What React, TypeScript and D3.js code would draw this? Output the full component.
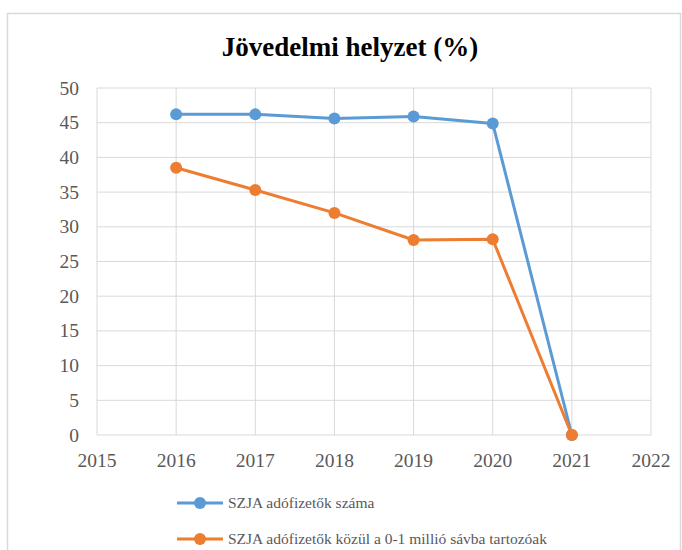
import React from "react";
import * as d3 from "d3";

const years = [2016, 2017, 2018, 2019, 2020, 2021];
const taxpayers = [46.2, 46.2, 45.6, 45.9, 44.9, 0];
const lowBand = [38.5, 35.3, 32.0, 28.1, 28.2, 0];
const xTicks = [2015, 2016, 2017, 2018, 2019, 2020, 2021, 2022];
const yTicks = [0, 5, 10, 15, 20, 25, 30, 35, 40, 45, 50];
const seriesNames = ["SZJA adófizetők száma", "SZJA adófizetők közül a 0-1 millió sávba tartozóak"];
const colors = ["#5B9BD5", "#ED7D31"];
const title = "Jövedelmi helyzet (%)";

const W = 682, H = 550;
const font = "'Liberation Serif', 'Times New Roman', serif";

export default function App() {
  const x = d3.scaleLinear().domain([2015, 2022]).range([97, 651]);
  const y = d3.scaleLinear().domain([0, 50]).range([435, 88]);
  const line = d3.line<number>().x((_, i) => x(years[i])).y((d) => y(d));
  const series = [taxpayers, lowBand];

  return (
    <svg width={W} height={H} style={{ position: "absolute", left: 0, top: 0, background: "#fff" }}>
      <rect x={7.5} y={13.5} width={673} height={560} fill="#fff" stroke="#D9D9D9" strokeWidth={1.5} />
      <text x={350} y={56} textAnchor="middle" fontFamily={font} fontWeight="bold" fontSize={27} fill="#000">
        {title}
      </text>
      {yTicks.map((t) => (
        <g key={"y" + t}>
          <line x1={x(2015)} x2={x(2022)} y1={y(t)} y2={y(t)} stroke="#D9D9D9" strokeWidth={1} />
          <text x={79} y={y(t) + 6.5} textAnchor="end" fontFamily={font} fontSize={19.5} fill="#595959">{t}</text>
        </g>
      ))}
      {xTicks.map((t) => (
        <g key={"x" + t}>
          <line x1={x(t)} x2={x(t)} y1={y(0)} y2={y(50)} stroke="#D9D9D9" strokeWidth={1} />
          <text x={x(t)} y={467} textAnchor="middle" fontFamily={font} fontSize={19.5} fill="#595959">{t}</text>
        </g>
      ))}
      {series.map((s, si) => (
        <g key={"s" + si}>
          <path d={line(s) || ""} fill="none" stroke={colors[si]} strokeWidth={3} strokeLinejoin="round" />
          {s.map((v, i) => (
            <circle key={i} cx={x(years[i])} cy={y(v)} r={6} fill={colors[si]} />
          ))}
        </g>
      ))}
      {seriesNames.map((n, i) => {
        const ly = 503 + i * 36;
        return (
          <g key={"l" + i}>
            <line x1={177} x2={223} y1={ly} y2={ly} stroke={colors[i]} strokeWidth={3} />
            <circle cx={200} cy={ly} r={6} fill={colors[i]} />
            <text x={228} y={ly + 5} fontFamily={font} fontSize={15.5} fill="#595959">{n}</text>
          </g>
        );
      })}
    </svg>
  );
}
